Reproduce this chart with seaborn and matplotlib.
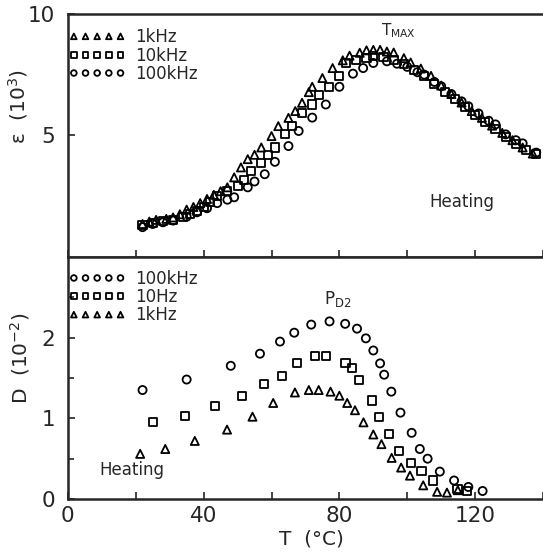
"""Dielectric constant and loss vs temperature (heating)."""

import matplotlib
matplotlib.use("Agg")
import matplotlib.pyplot as plt
import pandas as pd
import seaborn as sns

# top panel: permittivity (10^3)
eps_1k_T = [22, 24, 26, 29, 31, 33, 35, 37, 39, 41, 43, 45, 47, 49, 51, 53, 55, 57,
            60, 62, 65, 67, 69, 71, 72, 75, 78, 81, 83, 86, 88, 90, 92, 94, 96, 99,
            101, 104, 107, 110, 113, 116, 119, 122, 125, 128, 131, 134, 137]
eps_1k = [1.35, 1.45, 1.52, 1.56, 1.62, 1.75, 1.94, 2.05, 2.21, 2.38, 2.55, 2.7,
          2.86, 3.27, 3.68, 4.02, 4.2, 4.5, 4.97, 5.38, 5.72, 6.0, 6.34, 6.78, 7.0,
          7.36, 7.77, 8.09, 8.28, 8.4, 8.5, 8.52, 8.52, 8.45, 8.41, 8.18, 8.0, 7.75,
          7.45, 7.05, 6.7, 6.35, 6.0, 5.72, 5.4, 5.1, 4.8, 4.5, 4.25]

eps_10k_T = [22, 25, 28, 31, 34, 36, 38, 40, 42, 44, 47, 50, 52, 54, 57, 59, 61, 64,
             66, 69, 72, 74, 77, 80, 82, 85, 88, 90, 93, 96, 99, 102, 105, 108, 111,
             114, 117, 120, 123, 126, 129, 132, 135, 138]
eps_10k = [1.3, 1.4, 1.48, 1.53, 1.65, 1.76, 1.9, 2.04, 2.25, 2.51, 2.7, 2.9, 3.16,
           3.54, 3.88, 4.18, 4.5, 5.04, 5.4, 5.93, 6.27, 6.68, 7.0, 7.46, 7.98, 8.11,
           8.2, 8.28, 8.22, 8.1, 7.92, 7.7, 7.45, 7.1, 6.8, 6.5, 6.15, 5.85, 5.55,
           5.25, 4.95, 4.65, 4.4, 4.25]

eps_100k_T = [22, 25, 28, 31, 35, 38, 41, 44, 47, 49, 53, 55, 58, 61, 65, 68, 72, 76,
              80, 84, 87, 90, 94, 97, 100, 103, 105, 108, 110, 113, 116, 118, 121,
              124, 126, 129, 132, 134, 138]
eps_100k = [1.22, 1.35, 1.42, 1.49, 1.65, 1.83, 2.0, 2.21, 2.35, 2.45, 2.86, 3.1,
            3.4, 3.91, 4.56, 5.18, 5.73, 6.27, 7.0, 7.54, 7.77, 7.98, 8.05, 7.95,
            7.82, 7.6, 7.5, 7.2, 7.02, 6.7, 6.4, 6.2, 5.9, 5.6, 5.45, 5.04, 4.8,
            4.67, 4.29]

# bottom panel: loss D (10^-2)
d_100k_T = [22, 35, 48, 56.6, 62.5, 66.7, 71.7, 77.1, 81.7, 85.2, 87.8, 90, 92,
            93.2, 95.3, 98, 101.3, 103.7, 106, 109.6, 113.8, 118, 122.2]
d_100k = [1.35, 1.48, 1.65, 1.80, 1.95, 2.06, 2.16, 2.20, 2.17, 2.11, 1.99, 1.84,
          1.68, 1.54, 1.33, 1.07, 0.82, 0.62, 0.50, 0.34, 0.23, 0.15, 0.10]

d_10_T = [25.1, 34.5, 43.3, 51.3, 57.8, 63, 67.5, 72.7, 76.1, 81.8, 83.7, 85.9,
          89.5, 91.7, 94.6, 97.6, 101, 104.2, 107.6, 114.8, 117.7]
d_10 = [0.95, 1.03, 1.15, 1.28, 1.42, 1.52, 1.68, 1.77, 1.77, 1.69, 1.62, 1.47,
        1.22, 1.02, 0.81, 0.60, 0.45, 0.35, 0.23, 0.12, 0.095]

d_1k_T = [21.3, 28.7, 37.4, 46.9, 54.4, 60.5, 66.9, 71, 73.9, 77.4, 80, 82.3, 84.6,
          87.1, 90, 92.4, 95.4, 98.2, 100.8, 104.7, 108.8, 111.7, 114.9]
d_1k = [0.56, 0.62, 0.72, 0.86, 1.02, 1.19, 1.32, 1.35, 1.35, 1.33, 1.28, 1.19,
        1.10, 0.95, 0.80, 0.68, 0.51, 0.39, 0.29, 0.17, 0.09, 0.08, 0.11]

x_ticks = [0, 20, 40, 60, 80, 100, 120, 140]
x_labels = ["0", "", "40", "", "80", "", "120", ""]

sns.set_style("ticks")
plt.rcParams["font.family"] = ["DejaVu Sans"]
plt.rcParams["mathtext.default"] = "regular"

fig = plt.figure(figsize=(5.43, 5.57), dpi=100)
ax_top = fig.add_axes([0.125, 0.539, 0.875, 0.436])
ax_bot = fig.add_axes([0.125, 0.104, 0.875, 0.435])

style = dict(facecolor="none", edgecolor="black", linewidth=1.3, s=34)

top_series = [
    ("1kHz", eps_1k_T, eps_1k, "^"),
    ("10kHz", eps_10k_T, eps_10k, "s"),
    ("100kHz", eps_100k_T, eps_100k, "o"),
]
for label, t, v, m in top_series:
    df = pd.DataFrame({"T": t, "v": v})
    sns.scatterplot(data=df, x="T", y="v", marker=m, label=label, ax=ax_top, **style)

bot_series = [
    ("100kHz", d_100k_T, d_100k, "o"),
    ("10Hz", d_10_T, d_10, "s"),
    ("1kHz", d_1k_T, d_1k, "^"),
]
for label, t, v, m in bot_series:
    df = pd.DataFrame({"T": t, "v": v})
    sns.scatterplot(data=df, x="T", y="v", marker=m, label=label, ax=ax_bot, **style)

for ax, anchor_y in ((ax_top, 0.955), (ax_bot, 0.96)):
    ax.set_xlim(0, 139)
    ax.set_xticks(x_ticks)
    ax.tick_params(direction="in", length=5, width=1.2, labelsize=15.5)
    ax.tick_params(axis="y", pad=9)
    ax.tick_params(axis="x", pad=5)
    ax.tick_params(which="minor", direction="in", length=4, width=1.2)
    for side in ("left", "bottom", "top"):
        ax.spines[side].set_linewidth(1.8)
    ax.spines["right"].set_visible(False)
    ax.legend(loc="upper left", bbox_to_anchor=(-0.005, anchor_y), frameon=False,
              fontsize=12, scatterpoints=5, scatteryoffsets=[0.5],
              markerscale=0.7, handlelength=3.4, handletextpad=0.55,
              labelspacing=0.02, borderaxespad=0, borderpad=0.2)

ax_top.set_ylim(0, 10)
ax_top.set_yticks([5, 10])
ax_top.set_xticklabels([])
ax_top.set_xlabel("")
ax_top.set_ylabel("ε  (10$^3$)", fontsize=14.5)
ax_top.yaxis.set_label_coords(-0.08, 0.62)
ax_top.text(97.5, 9.1, "T$_{MAX}$", fontsize=11, ha="center")
ax_top.text(116, 2.25, "Heating", fontsize=12, ha="center", va="center")

ax_bot.set_ylim(0, 3)
ax_bot.set_yticks([0, 1, 2])
ax_bot.set_yticks([0.5, 1.5, 2.5], minor=True)
ax_bot.set_xticklabels(x_labels)
ax_bot.set_xlabel("T  (°C)", fontsize=14.5)
ax_bot.xaxis.set_label_coords(0.513, -0.125)
ax_bot.set_ylabel("D  (10$^{-2}$)", fontsize=14.5)
ax_bot.yaxis.set_label_coords(-0.075, 0.58)
ax_bot.text(79.5, 2.42, "P$_{D2}$", fontsize=12, ha="center")
ax_bot.text(19, 0.36, "Heating", fontsize=12, ha="center", va="center")

fig.savefig("out.png", dpi=100)
plt.close(fig)
